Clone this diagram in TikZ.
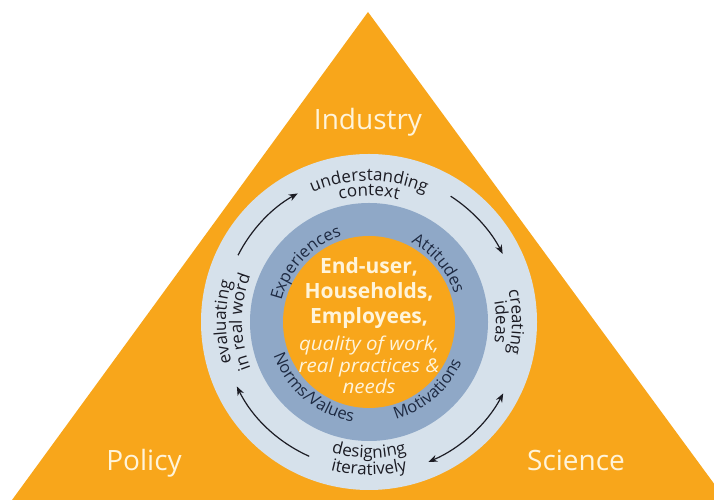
\documentclass[tikz,border=0pt]{standalone}
\usepackage{fontspec}
\setmainfont{Open Sans}
\usetikzlibrary{arrows.meta,decorations.text}

\definecolor{tri}{RGB}{248,166,27}
\definecolor{ringout}{RGB}{214,225,235}
\definecolor{ringin}{RGB}{143,168,199}
\definecolor{cream}{RGB}{255,244,218}
\definecolor{ink}{RGB}{28,28,36}
\definecolor{navy}{RGB}{30,42,66}

\newcommand\outerfont{\fontsize{17}{17}\selectfont\color{ink}}
\newcommand\innerfont{\fontsize{16.5}{16.5}\selectfont\color{navy}}
% radius, from, to, font, words
\newcommand\ringtext[5]{%
  \path[decorate, decoration={text along path, text align=center,
      text={|#4|#5}}] ([shift={(#2:#1)}]hub) arc[start angle=#2, end angle=#3, radius=#1];}

\begin{document}
\begin{tikzpicture}[x=1pt, y=1pt, >={Stealth[length=9pt,width=7pt]},
    corner/.style={text=cream, font=\fontsize{28}{28}\selectfont, anchor=base},
    disc/.style={circle, inner sep=0pt, minimum size=#1pt},
    flow/.style={line width=1.2pt, draw=ink}]
  \useasboundingbox (0,0) rectangle (714,502);
  \clip (0,0) rectangle (714,502);
  \fill[tri] (368,490) coordinate (apex) -- (12,2) coordinate (bl)
    -- (726,2) coordinate (br) -- cycle;
  \coordinate (hub) at (369,180);
  \node[disc=336, fill=ringout] (outer) at (hub) {};
  \node[disc=238, fill=ringin] (middle) at (hub) {};
  \node[disc=172, fill=tri] (core) at (hub) {};

  \node[corner] (industry) at (368,372) {Industry};
  \node[corner] (policy) at (144,31) {Policy};
  \node[corner] (science) at (576,31) {Science};

  \node[text=cream, align=center, inner sep=0pt,
    font=\bfseries\fontsize{21}{25}\selectfont]
    (people) at (369,209) {End-user,\\Households,\\Employees,};
  \node[text=cream, align=center, inner sep=0pt,
    font=\itshape\fontsize{19}{21.5}\selectfont\addfontfeatures{FakeStretch=1.08}]
    (needs) at (369,137) {quality of work,\\real practices \&\\needs};

  \foreach \a/\b/\r/\tip [count=\i] in
      {153/119/147/->, 57/27/150/->, -28/-67/152/<->, 246/206/147/->}{
    \coordinate (f\i) at ([shift={(\a:\r)}]hub);
    \draw[flow,\tip] (f\i) arc[start angle=\a, end angle=\b, radius=\r];
  }

  \ringtext{141}{150}{30}{\outerfont}{understanding}
  \ringtext{126}{150}{30}{\outerfont}{context}
  \ringtext{143}{60}{-60}{\outerfont}{creating}
  \ringtext{127}{60}{-60}{\outerfont}{ideas}
  \ringtext{143}{240}{120}{\outerfont}{evaluating}
  \ringtext{127}{240}{120}{\outerfont}{in real word}
  \ringtext{136}{210}{330}{\outerfont}{designing}
  \ringtext{153}{210}{330}{\outerfont}{iteratively}

  \ringtext{90}{207}{67}{\innerfont}{Experiences}
  \ringtext{90}{110}{-30}{\innerfont}{Attitudes}
  \ringtext{101}{160}{300}{\innerfont}{Norms/Values}
  \ringtext{101}{241}{381}{\innerfont}{Motivations}
\end{tikzpicture}
\end{document}
